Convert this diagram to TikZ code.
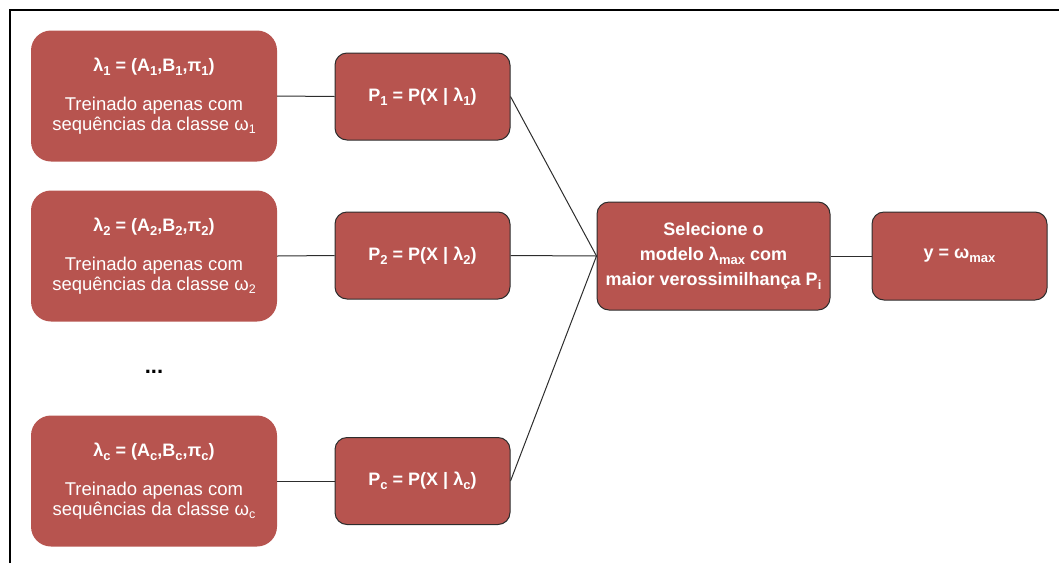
\documentclass[tikz,border=0pt]{standalone}
\usepackage{fontspec}
\setmainfont{Liberation Sans}
\definecolor{boxred}{RGB}{183,84,79}
\definecolor{boxline}{RGB}{45,45,45}
\newcommand{\lsub}[1]{\raisebox{-0.4ex}{\fontsize{13}{13}\selectfont #1}}
\newcommand{\rsub}[1]{\raisebox{-0.35ex}{\fontsize{12.5}{12.5}\selectfont #1}}
\begin{document}
\begin{tikzpicture}[x=1pt,y=-1pt,
  model/.style={fill=boxred, rounded corners=20pt, minimum width=246pt, minimum height=131pt,
    text=white, align=center, inner sep=0pt, font=\fontsize{18.5}{20}\selectfont},
  prob/.style={fill=boxred, draw=boxline, line width=1pt, rounded corners=12pt,
    minimum width=175pt, minimum height=87pt, text=white, align=center, inner sep=0pt,
    font=\fontsize{18}{25}\selectfont\bfseries},
  link/.style={draw=boxline, line width=1pt},
  frameline/.style={draw=black, line width=2pt}]
\useasboundingbox (0,0) rectangle (1059,563);
\coordinate (fbl) at (10,563);
\coordinate (ftl) at (10,10);
\coordinate (ftr) at (1059,10);
\draw[frameline] (fbl) -- (ftl) -- (ftr);

\node[model] (m1) at (154,96) {{\fontsize{18}{20}\selectfont\bfseries λ\lsub{1} = (A\lsub{1},B\lsub{1},π\lsub{1})}\\[19pt]Treinado apenas com\\sequências da classe ω\rsub{1}};
\node[model] (m2) at (154,256) {{\fontsize{18}{20}\selectfont\bfseries λ\lsub{2} = (A\lsub{2},B\lsub{2},π\lsub{2})}\\[19pt]Treinado apenas com\\sequências da classe ω\rsub{2}};
\node[model] (mc) at (154,481) {{\fontsize{18}{20}\selectfont\bfseries λ\lsub{c} = (A\lsub{c},B\lsub{c},π\lsub{c})}\\[19pt]Treinado apenas com\\sequências da classe ω\rsub{c}};
\node[font=\fontsize{22}{22}\selectfont\bfseries] (dots) at (154,372) {...};

\node[prob] (p1) at (422.5,96.5) {P\lsub{1} = P(X | λ\lsub{1})};
\node[prob] (p2) at (422.5,255.5) {P\lsub{2} = P(X | λ\lsub{2})};
\node[prob] (pc) at (422.5,481) {P\lsub{c} = P(X | λ\lsub{c})};

\node[prob, minimum width=233pt, minimum height=108pt] (sel) at (713.5,256) {Selecione o\\modelo λ\lsub{max} com\\maior verossimilhança P\lsub{i}};
\node[prob, minimum height=88pt] (y) at (959.5,256) {y = ω\lsub{max}};

\draw[link] (m1.east) -- (p1.west);
\draw[link] (m2.east) -- (p2.west);
\draw[link] (mc.east) -- (pc.west);
\draw[link] (p1.east) -- (sel.west);
\draw[link] (p2.east) -- (sel.west);
\draw[link] (pc.east) -- (sel.west);
\draw[link] (sel.east) -- (y.west);
\end{tikzpicture}
\end{document}
